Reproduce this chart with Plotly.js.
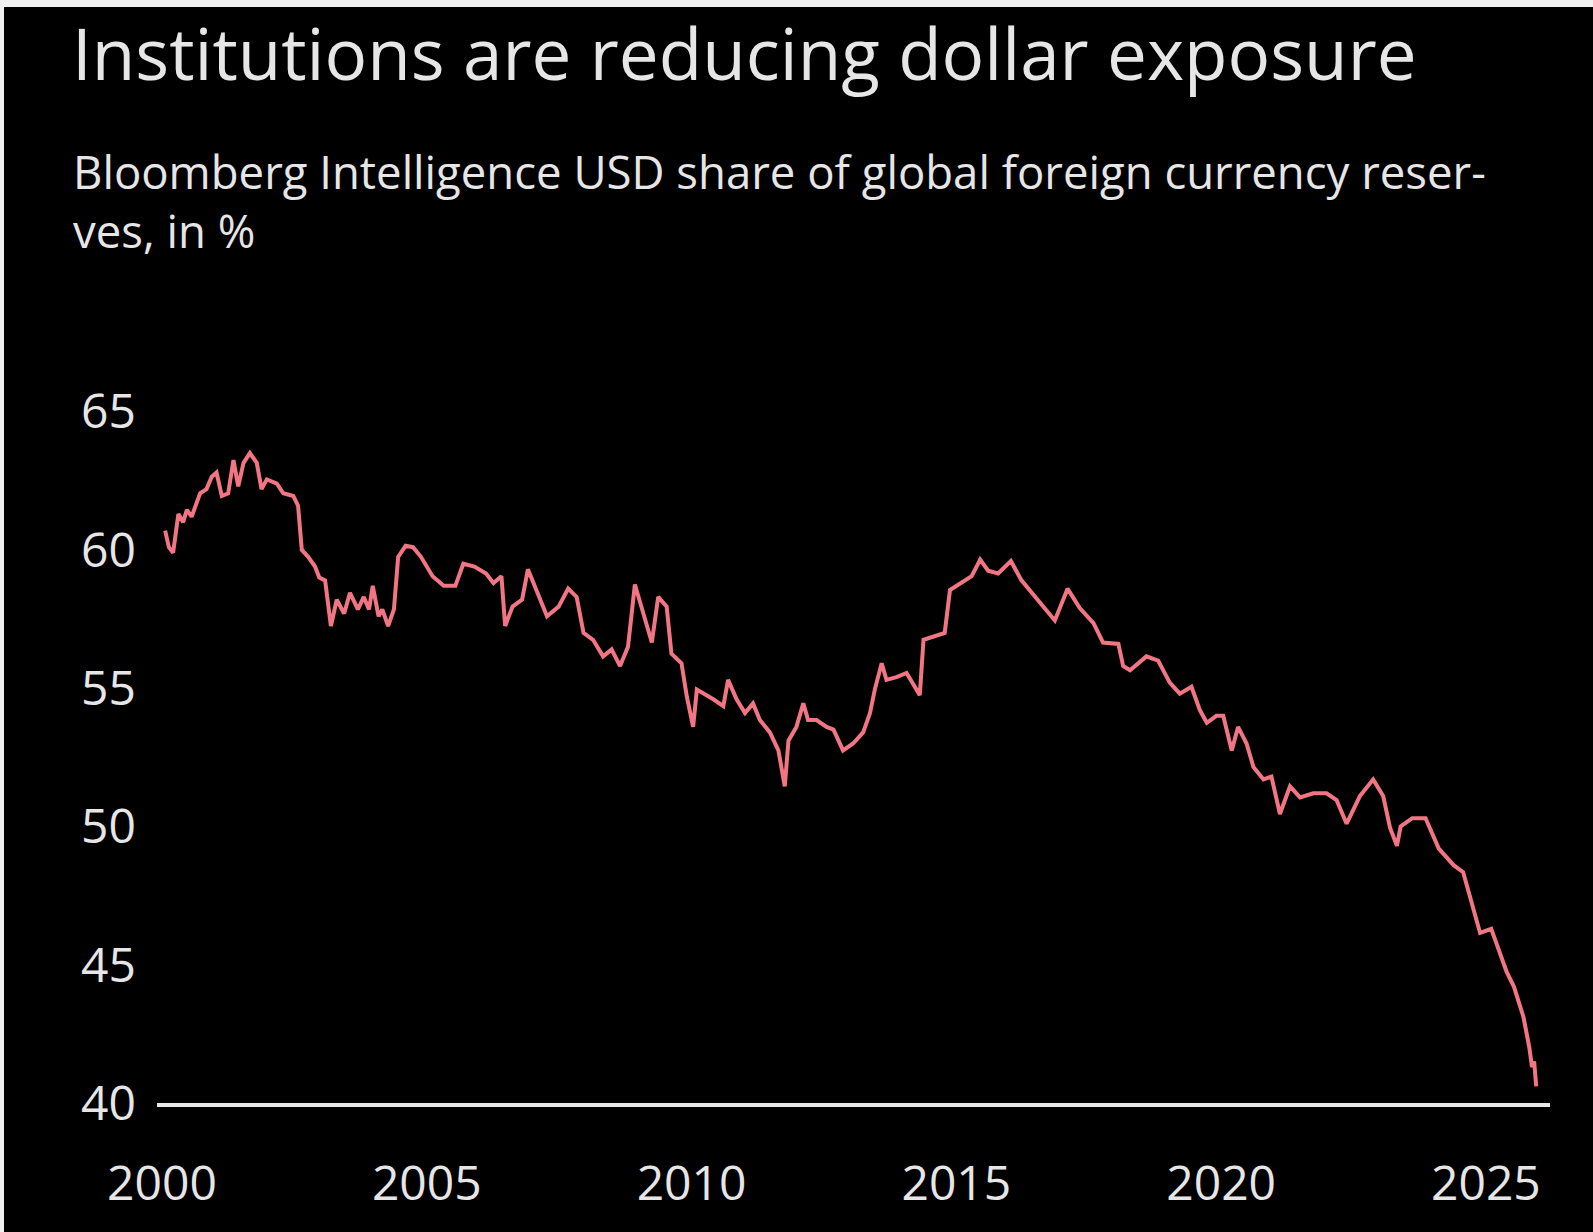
<!DOCTYPE html>
<html>
<head>
<meta charset="utf-8">
<script src="https://cdn.plot.ly/plotly-3.0.1.min.js"></script>
<style>
  html, body { margin: 0; padding: 0; background: #000; width: 1593px; height: 1232px; overflow: hidden; }
  #chart { position: absolute; left: 0; top: 0; width: 1593px; height: 1232px; background: #000; }
  .strip { position: absolute; background: #f0f0f0; z-index: 5; }
  #stripTop { left: 0; top: 0; width: 1593px; height: 7px; }
  #stripLeft { left: 0; top: 0; width: 4px; height: 1232px; }
</style>
</head>
<body>
<div id="chart"></div>
<div class="strip" id="stripTop"></div>
<div class="strip" id="stripLeft"></div>
<script>
// Decimal year positions of the observations
const years = [
  2000.06, 2000.13, 2000.21, 2000.31, 2000.40, 2000.47, 2000.56, 2000.72, 2000.84, 2000.94,
  2001.03, 2001.13, 2001.25, 2001.35, 2001.44, 2001.54, 2001.66, 2001.79, 2001.88, 2001.98,
  2002.17, 2002.29, 2002.48, 2002.57, 2002.64, 2002.76, 2002.89, 2002.97, 2003.08, 2003.19,
  2003.30, 2003.44, 2003.55, 2003.70, 2003.81, 2003.91, 2003.98, 2004.09, 2004.16, 2004.27,
  2004.38, 2004.46, 2004.60, 2004.74, 2004.89, 2005.11, 2005.32, 2005.54, 2005.69, 2005.90,
  2006.12, 2006.26, 2006.41, 2006.48, 2006.62, 2006.80, 2006.91, 2007.06, 2007.27, 2007.49,
  2007.67, 2007.83, 2007.96, 2008.14, 2008.33, 2008.49, 2008.65, 2008.80, 2008.93, 2009.09,
  2009.25, 2009.37, 2009.53, 2009.62, 2009.81, 2009.91, 2010.03, 2010.10, 2010.25, 2010.41,
  2010.60, 2010.69, 2010.85, 2011.01, 2011.16, 2011.29, 2011.48, 2011.64, 2011.76, 2011.83,
  2011.98, 2012.11, 2012.20, 2012.36, 2012.55, 2012.68, 2012.86, 2013.05, 2013.24, 2013.37,
  2013.46, 2013.59, 2013.68, 2013.87, 2014.06, 2014.15, 2014.31, 2014.38, 2014.56, 2014.78,
  2014.88, 2015.10, 2015.29, 2015.45, 2015.60, 2015.79, 2016.03, 2016.23, 2016.45, 2016.64,
  2016.86, 2017.10, 2017.33, 2017.59, 2017.77, 2018.06, 2018.15, 2018.28, 2018.59, 2018.81,
  2019.03, 2019.22, 2019.44, 2019.60, 2019.73, 2019.91, 2020.04, 2020.20, 2020.32, 2020.48,
  2020.61, 2020.80, 2020.95, 2021.11, 2021.30, 2021.49, 2021.74, 2021.99, 2022.18, 2022.37,
  2022.62, 2022.87, 2023.06, 2023.19, 2023.32, 2023.39, 2023.61, 2023.86, 2024.11, 2024.39,
  2024.57, 2024.89, 2025.10, 2025.39, 2025.53, 2025.71, 2025.82, 2025.87, 2025.91, 2025.95
];

// USD share of global foreign currency reserves, in %
const usdShare = [
  60.7, 60.1, 59.9, 61.3, 61.0, 61.45, 61.2, 62.05, 62.2, 62.65,
  62.8, 61.95, 62.05, 63.25, 62.3, 63.15, 63.5, 63.15, 62.2, 62.55,
  62.4, 62.05, 61.95, 61.6, 60.0, 59.75, 59.4, 59.0, 58.9, 57.25,
  58.2, 57.7, 58.45, 57.85, 58.3, 57.85, 58.7, 57.6, 57.85, 57.25,
  57.85, 59.75, 60.15, 60.1, 59.75, 59.05, 58.7, 58.7, 59.5, 59.4,
  59.15, 58.8, 59.05, 57.25, 57.95, 58.2, 59.3, 58.55, 57.6, 57.95,
  58.6, 58.3, 57.0, 56.75, 56.15, 56.4, 55.8, 56.5, 58.75, 57.7,
  56.65, 58.3, 57.95, 56.25, 55.9, 54.7, 53.6, 54.95, 54.8, 54.6,
  54.35, 55.3, 54.6, 54.1, 54.45, 53.85, 53.4, 52.75, 51.45, 53.1,
  53.6, 54.45, 53.85, 53.85, 53.6, 53.5, 52.75, 53.0, 53.4, 54.1,
  54.95, 55.9, 55.3, 55.4, 55.55, 55.25, 54.75, 56.75, 56.85, 57.0,
  58.55, 58.8, 59.05, 59.65, 59.25, 59.15, 59.6, 58.9, 58.4, 57.95,
  57.45, 58.6, 57.9, 57.35, 56.65, 56.6, 55.8, 55.65, 56.15, 56.0,
  55.2, 54.8, 55.05, 54.2, 53.75, 54.0, 54.0, 52.75, 53.6, 53.0,
  52.15, 51.7, 51.8, 50.45, 51.45, 51.05, 51.2, 51.2, 50.95, 50.1,
  51.1, 51.7, 51.1, 49.95, 49.3, 50.0, 50.3, 50.3, 49.2, 48.6,
  48.35, 46.15, 46.3, 44.75, 44.2, 43.1, 42.0, 41.3, 41.5, 40.6
];

const xTickVals = [2000, 2005, 2010, 2015, 2020, 2025];
const xTickLabels = ["2000", "2005", "2010", "2015", "2020", "2025"];
const yTickVals = [40, 45, 50, 55, 60, 65];
const yTickLabels = ["40", "45", "50", "55", "60", "65"];

const titleText = "Institutions are reducing dollar exposure";
const subtitleText = "Bloomberg Intelligence USD share of global foreign currency reser-<br>ves, in %";

const FONT = "'Open Sans', 'Noto Sans', sans-serif";
const TEXT = "#e6e6e6";
const W = 1593, H = 1232;

const trace = {
  x: years,
  y: usdShare,
  type: "scatter",
  mode: "lines",
  line: { color: "#f27584", width: 4, shape: "linear" },
  hoverinfo: "x+y"
};

const layout = {
  width: W,
  height: H,
  paper_bgcolor: "#000000",
  plot_bgcolor: "#000000",
  margin: { l: 157, r: 43, t: 384, b: 129, pad: 0 },
  showlegend: false,
  font: { family: FONT, color: TEXT },
  title: {
    text: titleText,
    font: { family: FONT, size: 71, color: TEXT },
    xref: "container", yref: "container",
    x: 72 / W, xanchor: "left",
    y: 1 - 55 / H, yanchor: "middle",
    pad: { t: 0, b: 0, l: 0, r: 0 }
  },
  annotations: [{
    text: subtitleText,
    xref: "paper", yref: "paper",
    x: (71 - 157) / 1393, xanchor: "left",
    y: 1 + (384 - 138) / 719, yanchor: "top",
    align: "left",
    showarrow: false,
    font: { family: FONT, size: 45.5, color: TEXT }
  }],
  xaxis: {
    type: "linear",
    range: [1999.906, 2026.21],
    tickmode: "array",
    tickvals: xTickVals,
    ticktext: xTickLabels,
    showgrid: false,
    zeroline: false,
    showline: true,
    linecolor: "#e8e8e8",
    linewidth: 4,
    ticks: "",
    ticklabelstandoff: 35,
    tickfont: { family: FONT, size: 48, color: TEXT },
    fixedrange: true
  },
  yaxis: {
    type: "linear",
    range: [40, 66],
    tickmode: "array",
    tickvals: yTickVals,
    ticktext: yTickLabels,
    showgrid: false,
    zeroline: false,
    showline: false,
    ticks: "",
    ticklabelstandoff: 20,
    tickfont: { family: FONT, size: 48, color: TEXT },
    fixedrange: true
  }
};

Plotly.newPlot("chart", [trace], layout, { displayModeBar: false, staticPlot: true });
</script>
</body>
</html>
